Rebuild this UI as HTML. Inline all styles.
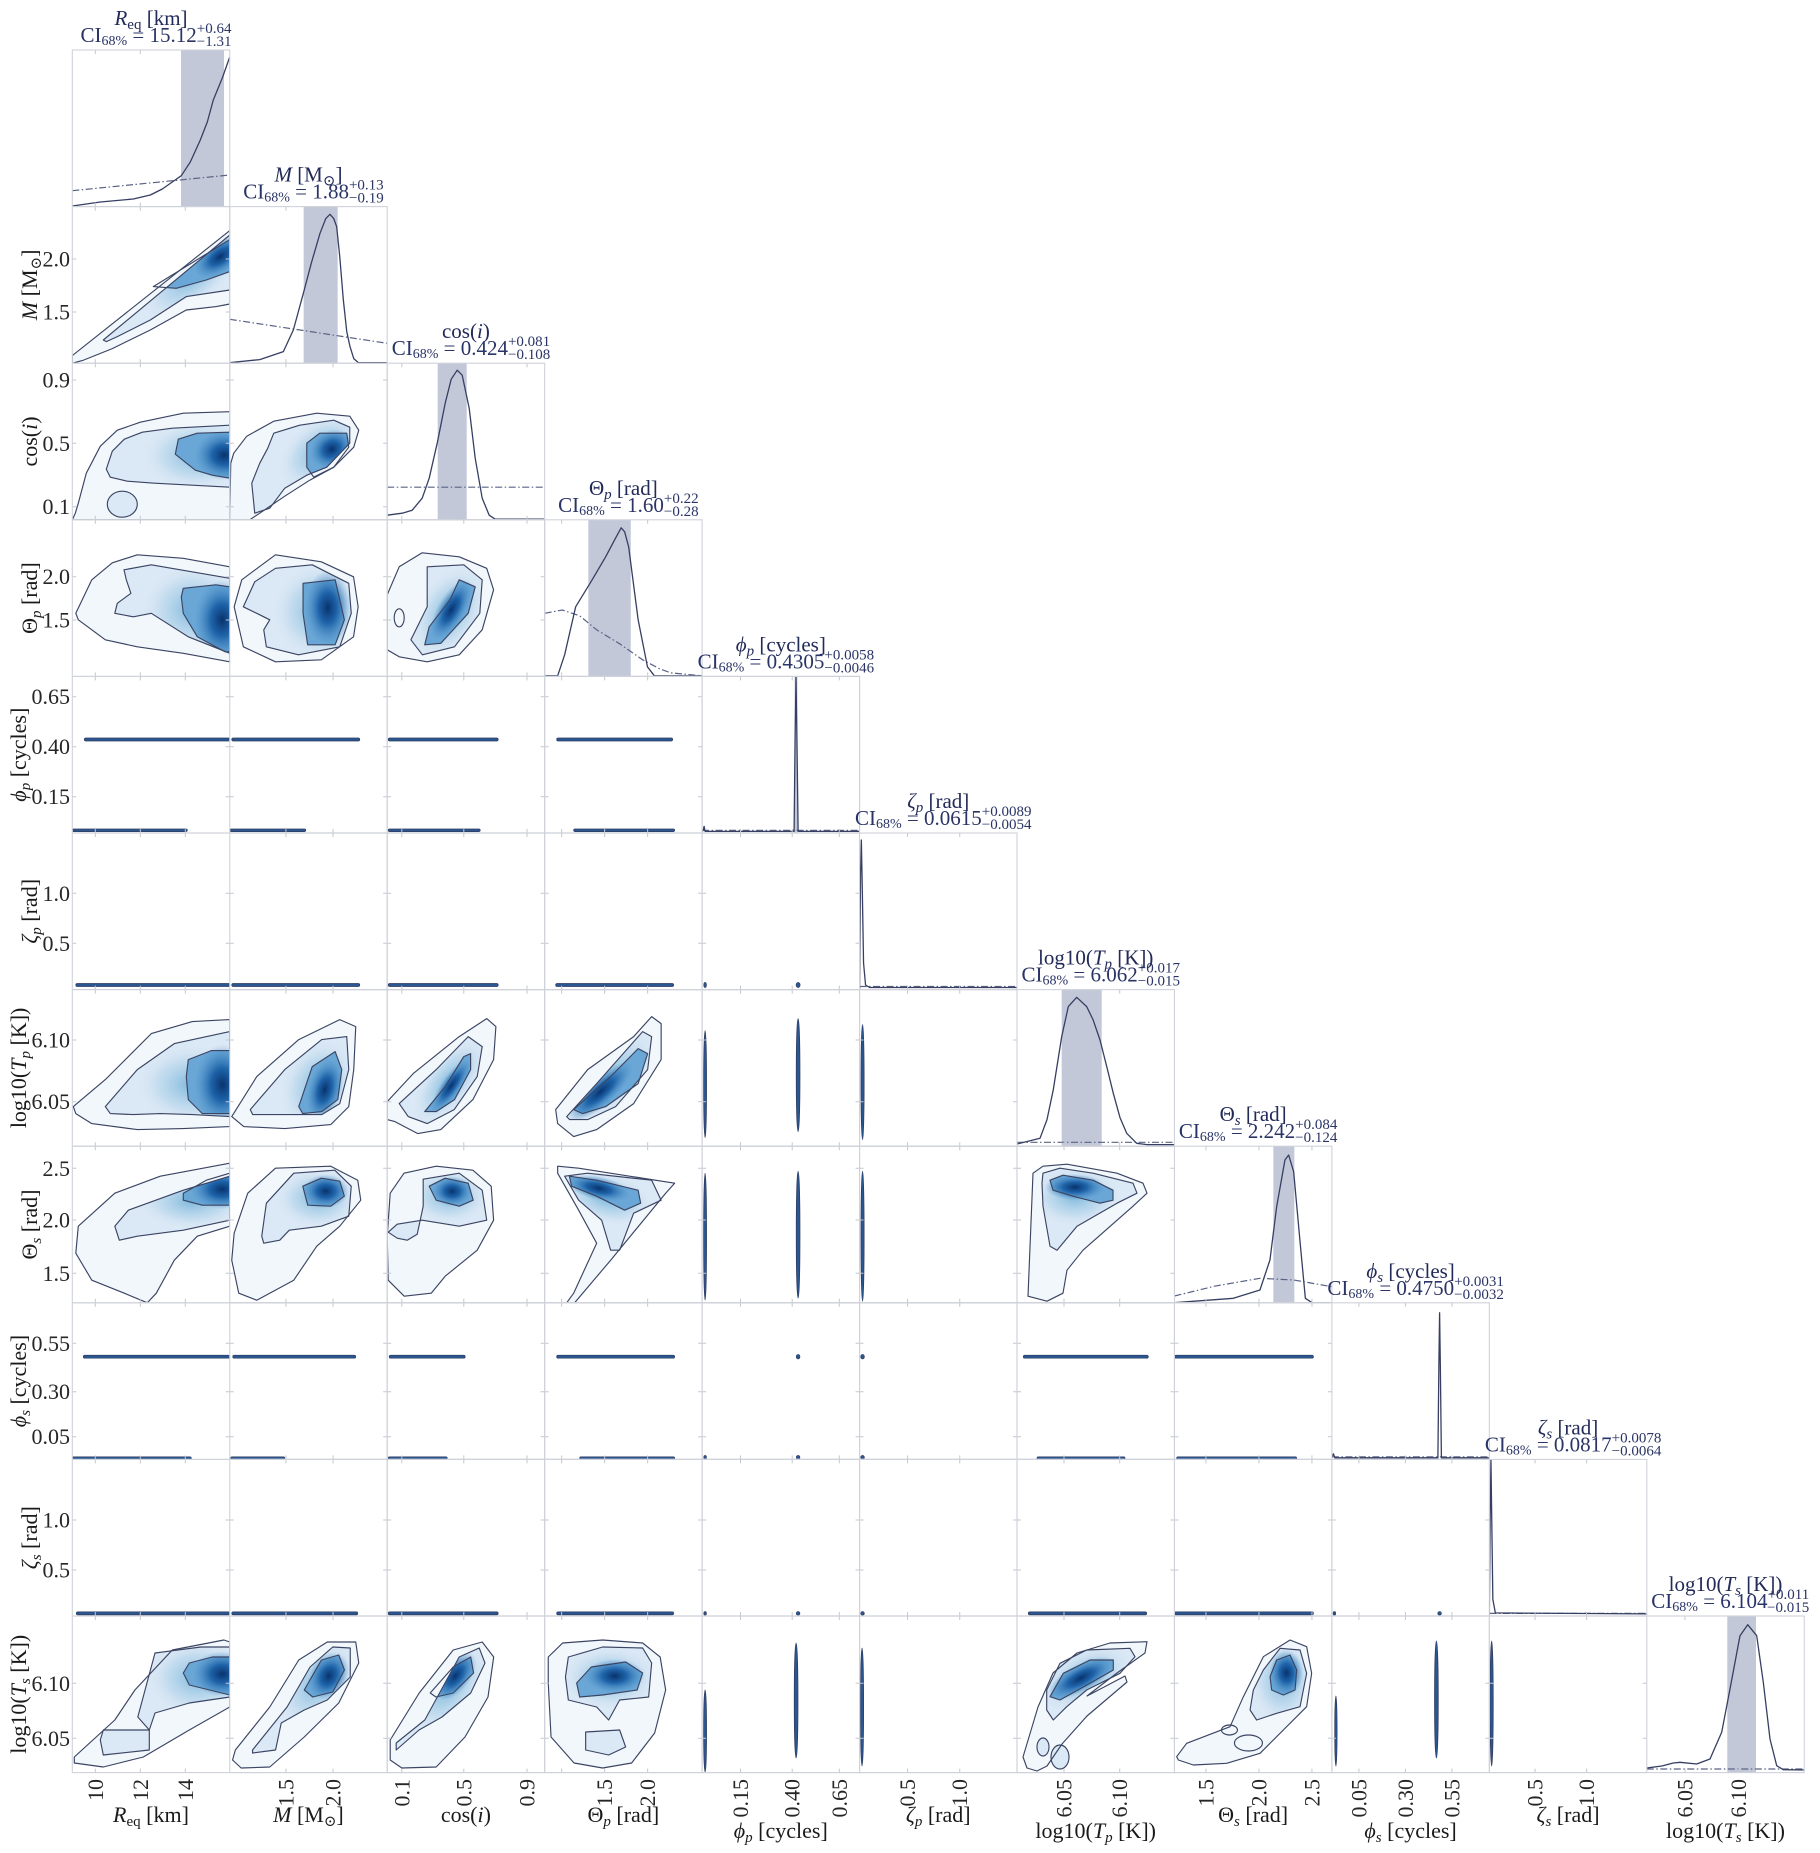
<!DOCTYPE html>
<html><head><meta charset="utf-8"><style>
html,body{margin:0;padding:0;background:#fff;}
svg{display:block;}
.fr{fill:none;stroke:#cfd2da;stroke-width:1.1}
.tk{fill:none;stroke:#c4c7cf;stroke-width:1}
.s{fill:none;stroke:#3b4563;stroke-width:1.15;stroke-linejoin:round}
.fo{fill:#f2f7fc}
.fm{fill:#dbe8f5}
.fi{fill:#6aa7d6}
.cv{fill:none;stroke:#363f62;stroke-width:1.3;stroke-linejoin:round}
.dd{fill:none;stroke:#5a6385;stroke-width:1.2;stroke-dasharray:7 2.5 1.5 2.5}
.band{fill:#c3c8d9}
.st{fill:#2a5692;stroke:#2f3b5e;stroke-width:.7}
.tl{font-size:22px;fill:#262626}
.al{font-size:22px;fill:#1a1a1a}
.t1{font-size:21px;fill:#222a58}
.t2{font-size:21px;fill:#2a3466}
</style></head><body>
<svg width="1820" height="1853" viewBox="0 0 1820 1853" font-family="'Liberation Serif','DejaVu Serif',serif">
<defs>
<clipPath id="pc"><rect x="0" y="0" width="157.45" height="156.6"/></clipPath>
<radialGradient id="g1"><stop offset="0" stop-color="#08336e"/><stop offset=".4" stop-color="#1a5fa6" stop-opacity=".95"/><stop offset="1" stop-color="#4a8fc8" stop-opacity="0"/></radialGradient>
<radialGradient id="g2"><stop offset="0" stop-color="#6aaed6" stop-opacity=".85"/><stop offset=".6" stop-color="#a9cfe8" stop-opacity=".5"/><stop offset="1" stop-color="#d9e7f4" stop-opacity="0"/></radialGradient>

<path id="b10o" d="M0,156.6 L0,149 L157.5,24 L157.5,97.4 L144,100 L114,103.4 L78,123.4 L40,142 L10,154 Z"/>
<path id="b10m" d="M31,133.4 L157.5,28.4 L157.5,83.4 L114,90 L78,113.4 L45,130 L34,135 Z"/>
<path id="b10i" d="M81,80 L157.5,33 L157.5,65 L134,73.4 L104,81.7 Z"/>

<path id="b20o" d="M0,156.6 L3,150 L6,140 L14,110 L28,83 L45,67 L68,59 L111,50 L157.5,48.5 L157.5,156.6 Z"/>
<path id="b20m" d="M34,106 L40,88 L52,76 L70,69 L100,65 L157.5,62 L157.5,124 L120,122 L82,120 L55,118 L38,114 Z"/>
<path id="b20i" d="M103,91 L106,76 L125,70 L157.5,69 L157.5,115 L140,112 L123,107 Z"/>

<path id="b21o" d="M0,156.6 L1,100 L4,90 L17,73 L44,58 L87,50 L120,53 L129,67 L124,84 L104,104 L80,117 L55,133 L30,150 L20,156.6 Z"/>
<path id="b21m" d="M25,150 L22,120 L30,100 L38,85 L44,70 L70,62 L104,57 L120,64 L120,80 L97,104 L77,112 L55,125 L40,145 Z"/>
<path id="b21i" d="M77,80 L90,70 L117,70 L119,84 L104,104 L84,114 L77,104 Z"/>

<path id="b30o" d="M3.5,93.5 L19.5,60 L40,43 L65,35 L111,38.5 L157.5,47 L157.5,142 L111,133.5 L65,127 L33,120 L6,100 Z"/>
<path id="b30m" d="M51.7,50 L79,45 L157.5,58.5 L157.5,133.5 L116,117 L79,93.5 L61,97 L42.5,93.5 L45,83.5 L58.6,73.5 L54,60 Z"/>
<path id="b30i" d="M109,77 L111,68.5 L143.5,65 L157.5,67 L157.5,132 L152.7,132 L125,117 L111,93.5 Z"/>

<path id="b31o" d="M4.4,87 L12,60 L45.7,35 L91.6,42 L123.8,57 L128.4,87 L123.8,117 L91.6,140 L45.7,142 L13.6,127 Z"/>
<path id="b31m" d="M13.6,87 L25,62 L45.7,48.5 L82.5,45 L119,63.5 L121.5,93.5 L110,127 L68.7,135 L36.6,127 L34,110 L40,100 L30,95 Z"/>
<path id="b31i" d="M73.3,63.5 L105.4,60 L114.6,100 L105.4,125 L77.9,125 L73.3,93.5 Z"/>

<path id="b32o" d="M0,130 L0,75 L12,47 L35,33 L72,37 L99.5,48.5 L106.4,70 L95,110 L72,135 L40,142 L12,137 Z"/>
<path id="b32m" d="M40,47 L76.6,45 L95,60 L92.6,93.5 L67.3,127 L35.2,135 L23.7,120 L40,87 L40,60 Z"/>
<path id="b32i" d="M72,60 L88,67 L81,93.5 L53.6,123.5 L37.5,125 L42,107 L62.8,80 Z"/>

<path id="b60o" d="M1,117 L33,90 L79,44 L120,32 L157.5,30 L157.5,137 L111,139 L65,140 L19.5,134 L3.5,124 Z"/>
<path id="b60m" d="M33,117 L65,80 L102,54 L157.5,42 L157.5,127 L120,125 L88,124 L61,125 L38,124 Z"/>
<path id="b60i" d="M116,70 L139,61 L157.5,61 L157.5,124 L130,124 L116,110 L114,87 Z"/>

<path id="b61o" d="M2,127 L27,87 L69,50 L110,30 L126,37 L124,80 L119,117 L101,135 L55,139 L14,137 Z"/>
<path id="b61m" d="M20.5,120 L55,80 L92,50 L117,47 L119,80 L110,114 L92,125 L46,125 L23,125 Z"/>
<path id="b61i" d="M69,117 L82.5,77 L105.4,62 L112,80 L108,110 L92,122 L73,124 Z"/>

<path id="b62o" d="M0,112 L26,84 L72,47 L99.5,29 L108.7,37 L106.4,70 L85.7,110 L53.6,140 L30.6,144 L7.7,132 L0,130 Z"/>
<path id="b62m" d="M12,114 L49,80 L81,47 L95,57 L90,87 L67,120 L40,134 L21,127 Z"/>
<path id="b62i" d="M37.5,122 L58,97 L76.6,67 L83.4,64 L83.4,80 L67.3,110 L49,122 Z"/>

<path id="b63o" d="M11,120 L43,80 L89,47 L107,27 L116.5,34 L116.5,70 L89,114 L52,140 L29,147 L13,134 Z"/>
<path id="b63m" d="M22,127 L52,94 L98,42 L107,47 L103,80 L71,117 L43,130 L25,130 Z"/>
<path id="b63i" d="M29,120 L66,87 L93.5,59 L103,64 L93.5,94 L61,117 L38,124 Z"/>

<path id="b70o" d="M6,80 L42.5,47 L88,30 L157.5,17 L157.5,80 L125,90 L102,114 L84,147 L75,156.6 L52,147 L19.5,134 L3.5,107 Z"/>
<path id="b70m" d="M42.5,80 L56,64 L111,44 L157.5,30 L157.5,74 L111,84 L65,90 L47,94 Z"/>
<path id="b70i" d="M111,47 L134,34 L157.5,27 L157.5,59 L130,59 L111,54 Z"/>

<path id="b71o" d="M4.4,87 L18,47 L45.7,22 L101,20 L128,34 L131,54 L110,80 L87,100 L64,134 L27,154 L9,147 L2,114 Z"/>
<path id="b71m" d="M32,90 L36.6,57 L64,27 L105,24 L121.5,40 L119,70 L91.6,80 L59.5,84 L50,94 L34,97 Z"/>
<path id="b71i" d="M73,40 L91.6,32 L110,35 L114.6,50 L101,60 L78,59 Z"/>

<path id="b72o" d="M3,47 L16.8,27 L49,20 L85.7,24 L104,40 L106.4,74 L90,104 L58,130 L44,147 L17,150 L1,134 L0,90 Z"/>
<path id="b72m" d="M36,33 L72,27 L95,44 L99.5,74 L72,80 L35,74 L10,78 L1,86 L10,92 L20,94 L30,88 L36,60 Z"/>
<path id="b72i" d="M42,40 L58,32 L81,37 L86,54 L72,60 L49,54 Z"/>

<path id="b73o" d="M13,20 L34,22 L130,37 L121,47 L66,114 L30,156.6 L22,156.6 L29,147 L52,97 L34,64 L13,27 Z"/>
<path id="b73m" d="M20,30 L43,27 L107,34 L116.5,54 L89,67 L75,104 L66,104 L57,74 L34,54 Z"/>
<path id="b73i" d="M24.7,30 L52,34 L93.5,44 L96,57 L80,64 L52,50 L27,40 Z"/>

<path id="b76o" d="M11,150 L16,27 L26,20 L50,18 L100,27 L126,37 L130,47 L116,60 L66,104 L50,124 L46,147 L30,155 Z"/>
<path id="b76m" d="M26,27 L43,22 L76,27 L116,37 L120,47 L100,57 L60,80 L40,104 L33,100 L26,60 L25,37 Z"/>
<path id="b76i" d="M33,34 L46,29 L76,34 L96,44 L96,54 L83,57 L56,50 L36,44 Z"/>

<path id="b100o" d="M2,141 L42.5,104 L62.6,74 L100,34 L151.6,24 L157.5,26 L157.5,91 L117,114 L71,141 L31,151 L2,147 Z"/>
<path id="b100m" d="M65.5,101 L82.7,37 L128.6,31 L157.5,31 L157.5,81 L117,87 L82.7,97 L77,114 Z"/>
<path id="b100i" d="M111,57 L117,47 L140,41 L157.5,41 L157.5,79 L117,69 Z"/>

<path id="b101o" d="M5.6,134 L40,91 L69,44 L97.5,26 L126,26 L129,47 L109,87 L74.5,121 L40,151 L11.4,152 L2.8,144 Z"/>
<path id="b101m" d="M22.8,134 L57.3,91 L80.3,51 L103,31 L120.5,32 L120.5,61 L97.5,84 L74.5,94 L51.5,107 L45.8,134 L22.8,137 Z"/>
<path id="b101i" d="M74.5,74 L91.7,44 L109,39 L114.7,54 L103,76 L83,81 Z"/>

<path id="b102o" d="M3,124 L32,77 L66,34 L95,26 L106.5,41 L100.8,81 L77.8,121 L49,151 L14.6,152 L3,144 Z"/>
<path id="b102m" d="M9,127 L37.6,104 L72,41 L92,32 L97.8,47 L83.5,77 L54.8,101 L31.8,114 L9,134 Z"/>
<path id="b102i" d="M43,77 L66,51 L83.5,41 L86.4,57 L66,77 L48.8,81 Z"/>

<path id="b103o" d="M3.6,41 L18,27 L58,24 L98,27 L115.5,41 L121,74 L110,117 L87,147 L58,152 L29.4,147 L6.4,121 L3.6,67 Z"/>
<path id="b103m" d="M23.7,41 L58,31 L98,32 L107,47 L104,81 L75,84 L64,104 L52,91 L23.7,84 L20.8,61 Z"/>
<path id="b103i" d="M32,67 L46.7,51 L81,46 L98,57 L92.5,74 L58,79 L35,81 Z"/>

<path id="b106o" d="M6,141 L21,91 L36,57 L60,37 L93,27 L130,25.7 L128,37 L100,57 L70,80 L108,60 L110,66 L70,100 L45,128 L30,150 L20,155 L10,152 Z"/>
<path id="b106m" d="M29.7,94 L29.7,74 L43,47.3 L69.7,34 L113,32.3 L118,40.7 L103,57.3 L69.7,74 L49.7,90.7 L36.3,104 Z"/>
<path id="b106i" d="M33,80.7 L46.3,57.3 L73,44 L96.3,44 L96.3,54 L73,67.3 L43,84 Z"/>

<path id="b107o" d="M2.2,140.7 L12.2,127.3 L55.6,110.7 L68.9,80.7 L88.9,40.7 L115.6,24 L132.2,30.7 L137.2,57.3 L132.2,90.7 L108.9,114 L85.6,137.3 L52.2,147.3 L18.9,149 L3.9,144 Z"/>
<path id="b107m" d="M78.9,74 L88.9,54 L105.6,32.3 L125.6,34 L132.2,57.3 L125.6,90.7 L102.2,97.3 L82.2,104 L75.6,94 Z"/>
<path id="b107i" d="M95.6,60.7 L102.2,44 L115.6,39 L122.2,54 L120.6,74 L108.9,79 L97.2,74 Z"/>

<clipPath id="c10"><use href="#b10m"/></clipPath>
<clipPath id="c20"><use href="#b20m"/></clipPath>
<clipPath id="c21"><use href="#b21m"/></clipPath>
<clipPath id="c30"><use href="#b30m"/></clipPath>
<clipPath id="c31"><use href="#b31m"/></clipPath>
<clipPath id="c32"><use href="#b32m"/></clipPath>
<clipPath id="c60"><use href="#b60m"/></clipPath>
<clipPath id="c61"><use href="#b61m"/></clipPath>
<clipPath id="c62"><use href="#b62m"/></clipPath>
<clipPath id="c63"><use href="#b63m"/></clipPath>
<clipPath id="c70"><use href="#b70m"/></clipPath>
<clipPath id="c71"><use href="#b71m"/></clipPath>
<clipPath id="c72"><use href="#b72m"/></clipPath>
<clipPath id="c73"><use href="#b73m"/></clipPath>
<clipPath id="c76"><use href="#b76m"/></clipPath>
<clipPath id="c100"><use href="#b100m"/></clipPath>
<clipPath id="c101"><use href="#b101m"/></clipPath>
<clipPath id="c102"><use href="#b102m"/></clipPath>
<clipPath id="c103"><use href="#b103m"/></clipPath>
<clipPath id="c106"><use href="#b106m"/></clipPath>
<clipPath id="c107"><use href="#b107m"/></clipPath>

<path id="tx0" d="M23,156.6v-4M68,156.6v-4M113,156.6v-4M23,0v4M68,0v4M113,0v4"/>
<path id="tx1" d="M56.2,156.6v-4M103.3,156.6v-4M56.2,0v4M103.3,0v4"/>
<path id="tx2" d="M14.6,156.6v-4M76.6,156.6v-4M139.8,156.6v-4M14.6,0v4M76.6,0v4M139.8,0v4"/>
<path id="tx3" d="M17,156.6v-4M60,156.6v-4M103,156.6v-4M17,0v4M60,0v4M103,0v4"/>
<path id="tx4" d="M38.4,156.6v-4M90.1,156.6v-4M137.2,156.6v-4M38.4,0v4M90.1,0v4M137.2,0v4"/>
<path id="tx5" d="M48,156.6v-4M100.2,156.6v-4M48,0v4M100.2,0v4"/>
<path id="tx6" d="M47,156.6v-4M102.7,156.6v-4M47,0v4M102.7,0v4"/>
<path id="tx7" d="M31.5,156.6v-4M84.5,156.6v-4M137.5,156.6v-4M31.5,0v4M84.5,0v4M137.5,0v4"/>
<path id="tx8" d="M27,156.6v-4M73.5,156.6v-4M120,156.6v-4M27,0v4M73.5,0v4M120,0v4"/>
<path id="tx9" d="M45.7,156.6v-4M97.3,156.6v-4M45.7,0v4M97.3,0v4"/>
<path id="tx10" d="M38.2,156.6v-4M91.5,156.6v-4M38.2,0v4M91.5,0v4"/>
<path id="ty1" d="M0,52.4h4M0,105.4h4M157.45,52.4h-4M157.45,105.4h-4"/>
<path id="ty2" d="M0,16.8h4M0,80.1h4M0,143.5h4M157.45,16.8h-4M157.45,80.1h-4M157.45,143.5h-4"/>
<path id="ty3" d="M0,56.9h4M0,100.2h4M157.45,56.9h-4M157.45,100.2h-4"/>
<path id="ty4" d="M0,20.3h4M0,70.3h4M0,120.3h4M157.45,20.3h-4M157.45,70.3h-4M157.45,120.3h-4"/>
<path id="ty5" d="M0,60.3h4M0,110.3h4M157.45,60.3h-4M157.45,110.3h-4"/>
<path id="ty6" d="M0,50.4h4M0,112.1h4M157.45,50.4h-4M157.45,112.1h-4"/>
<path id="ty7" d="M0,22.1h4M0,73.8h4M0,127.1h4M157.45,22.1h-4M157.45,73.8h-4M157.45,127.1h-4"/>
<path id="ty8" d="M0,40.5h4M0,88.9h4M0,133.9h4M157.45,40.5h-4M157.45,88.9h-4M157.45,133.9h-4"/>
<path id="ty9" d="M0,60.6h4M0,110.6h4M157.45,60.6h-4M157.45,110.6h-4"/>
<path id="ty10" d="M0,67.3h4M0,122.3h4M157.45,67.3h-4M157.45,122.3h-4"/>
</defs>

<rect x="0" y="0" width="1820" height="1853" fill="#fff"/>

<!-- ===== 2D blob panels ===== -->
<g transform="translate(72.3,206.6)"><g clip-path="url(#pc)">
<use href="#b10o" class="fo"/><use href="#b10m" class="fm"/>
<g clip-path="url(#c10)"><ellipse cx="120" cy="70" rx="60" ry="28" transform="rotate(-38 120 70)" fill="url(#g2)"/>
<use href="#b10i" class="fi"/>
<ellipse cx="148" cy="50" rx="30" ry="16" transform="rotate(-35 148 50)" fill="url(#g1)"/></g>
<use href="#b10o" class="s"/><use href="#b10m" class="s"/><use href="#b10i" class="s"/>
</g></g>

<g transform="translate(72.3,363.2)"><g clip-path="url(#pc)">
<use href="#b20o" class="fo"/><use href="#b20m" class="fm"/>
<g clip-path="url(#c20)"><ellipse cx="125" cy="92" rx="55" ry="35" fill="url(#g2)"/>
<use href="#b20i" class="fi"/>
<ellipse cx="152" cy="92" rx="30" ry="25" fill="url(#g1)"/></g>
<ellipse cx="50" cy="141" rx="15" ry="13" class="fm"/>
<use href="#b20o" class="s"/><use href="#b20m" class="s"/><use href="#b20i" class="s"/>
<ellipse cx="50" cy="141" rx="15" ry="13" class="s"/>
</g></g>

<g transform="translate(229.75,363.2)"><g clip-path="url(#pc)">
<use href="#b21o" class="fo"/><use href="#b21m" class="fm"/>
<g clip-path="url(#c21)"><ellipse cx="90" cy="88" rx="48" ry="30" transform="rotate(-40 90 88)" fill="url(#g2)"/>
<use href="#b21i" class="fi"/>
<ellipse cx="102" cy="86" rx="23" ry="19" transform="rotate(-30 102 86)" fill="url(#g1)"/></g>
<use href="#b21o" class="s"/><use href="#b21m" class="s"/><use href="#b21i" class="s"/>
</g></g>

<g transform="translate(72.3,519.8)"><g clip-path="url(#pc)">
<use href="#b30o" class="fo"/><use href="#b30m" class="fm"/>
<g clip-path="url(#c30)"><ellipse cx="120" cy="90" rx="50" ry="45" fill="url(#g2)"/>
<use href="#b30i" class="fi"/>
<ellipse cx="150" cy="100" rx="28" ry="40" fill="url(#g1)"/></g>
<use href="#b30o" class="s"/><use href="#b30m" class="s"/><use href="#b30i" class="s"/>
</g></g>

<g transform="translate(229.75,519.8)"><g clip-path="url(#pc)">
<use href="#b31o" class="fo"/><use href="#b31m" class="fm"/>
<g clip-path="url(#c31)"><ellipse cx="88" cy="92" rx="45" ry="48" fill="url(#g2)"/>
<use href="#b31i" class="fi"/>
<ellipse cx="98" cy="88" rx="23" ry="38" fill="url(#g1)"/></g>
<use href="#b31o" class="s"/><use href="#b31m" class="s"/><use href="#b31i" class="s"/>
</g></g>

<g transform="translate(387.2,519.8)"><g clip-path="url(#pc)">
<use href="#b32o" class="fo"/><use href="#b32m" class="fm"/>
<g clip-path="url(#c32)"><ellipse cx="62" cy="92" rx="32" ry="50" transform="rotate(30 62 92)" fill="url(#g2)"/>
<use href="#b32i" class="fi"/>
<ellipse cx="64" cy="90" rx="14" ry="34" transform="rotate(30 64 90)" fill="url(#g1)"/></g>
<use href="#b32o" class="s"/><use href="#b32m" class="s"/><use href="#b32i" class="s"/>
<ellipse cx="12" cy="98" rx="5" ry="9" class="s"/>
</g></g>

<g transform="translate(72.3,989.6)"><g clip-path="url(#pc)">
<use href="#b60o" class="fo"/><use href="#b60m" class="fm"/>
<g clip-path="url(#c60)"><ellipse cx="120" cy="95" rx="55" ry="40" fill="url(#g2)"/>
<use href="#b60i" class="fi"/>
<ellipse cx="150" cy="95" rx="28" ry="40" fill="url(#g1)"/></g>
<use href="#b60o" class="s"/><use href="#b60m" class="s"/><use href="#b60i" class="s"/>
</g></g>

<g transform="translate(229.75,989.6)"><g clip-path="url(#pc)">
<use href="#b61o" class="fo"/><use href="#b61m" class="fm"/>
<g clip-path="url(#c61)"><ellipse cx="88" cy="95" rx="35" ry="48" transform="rotate(25 88 95)" fill="url(#g2)"/>
<use href="#b61i" class="fi"/>
<ellipse cx="95" cy="100" rx="17" ry="32" transform="rotate(15 95 100)" fill="url(#g1)"/></g>
<use href="#b61o" class="s"/><use href="#b61m" class="s"/><use href="#b61i" class="s"/>
</g></g>

<g transform="translate(387.2,989.6)"><g clip-path="url(#pc)">
<use href="#b62o" class="fo"/><use href="#b62m" class="fm"/>
<g clip-path="url(#c62)"><ellipse cx="62" cy="92" rx="24" ry="52" transform="rotate(38 62 92)" fill="url(#g2)"/>
<use href="#b62i" class="fi"/>
<ellipse cx="64" cy="96" rx="10" ry="32" transform="rotate(35 64 96)" fill="url(#g1)"/></g>
<use href="#b62o" class="s"/><use href="#b62m" class="s"/><use href="#b62i" class="s"/>
</g></g>

<g transform="translate(544.65,989.6)"><g clip-path="url(#pc)">
<use href="#b63o" class="fo"/><use href="#b63m" class="fm"/>
<g clip-path="url(#c63)"><ellipse cx="64" cy="90" rx="26" ry="62" transform="rotate(45 64 90)" fill="url(#g2)"/>
<use href="#b63i" class="fi"/>
<ellipse cx="56" cy="102" rx="14" ry="42" transform="rotate(48 56 102)" fill="url(#g1)"/></g>
<use href="#b63o" class="s"/><use href="#b63m" class="s"/><use href="#b63i" class="s"/>
</g></g>

<g transform="translate(72.3,1146.2)"><g clip-path="url(#pc)">
<use href="#b70o" class="fo"/><use href="#b70m" class="fm"/>
<g clip-path="url(#c70)"><ellipse cx="120" cy="55" rx="55" ry="28" fill="url(#g2)"/>
<use href="#b70i" class="fi"/>
<ellipse cx="150" cy="43" rx="32" ry="20" fill="url(#g1)"/></g>
<use href="#b70o" class="s"/><use href="#b70m" class="s"/><use href="#b70i" class="s"/>
</g></g>

<g transform="translate(229.75,1146.2)"><g clip-path="url(#pc)">
<use href="#b71o" class="fo"/><use href="#b71m" class="fm"/>
<g clip-path="url(#c71)"><ellipse cx="88" cy="52" rx="42" ry="30" fill="url(#g2)"/>
<use href="#b71i" class="fi"/>
<ellipse cx="96" cy="45" rx="23" ry="17" fill="url(#g1)"/></g>
<use href="#b71o" class="s"/><use href="#b71m" class="s"/><use href="#b71i" class="s"/>
</g></g>

<g transform="translate(387.2,1146.2)"><g clip-path="url(#pc)">
<use href="#b72o" class="fo"/><use href="#b72m" class="fm"/>
<g clip-path="url(#c72)"><ellipse cx="62" cy="50" rx="40" ry="28" fill="url(#g2)"/>
<use href="#b72i" class="fi"/>
<ellipse cx="65" cy="45" rx="20" ry="15" fill="url(#g1)"/></g>
<use href="#b72o" class="s"/><use href="#b72m" class="s"/><use href="#b72i" class="s"/>
</g></g>

<g transform="translate(544.65,1146.2)"><g clip-path="url(#pc)">
<use href="#b73o" class="fo"/><use href="#b73m" class="fm"/>
<g clip-path="url(#c73)"><ellipse cx="62" cy="52" rx="48" ry="26" transform="rotate(15 62 52)" fill="url(#g2)"/>
<use href="#b73i" class="fi"/>
<ellipse cx="54" cy="42" rx="32" ry="12" transform="rotate(12 54 42)" fill="url(#g1)"/></g>
<use href="#b73o" class="s"/><use href="#b73m" class="s"/><use href="#b73i" class="s"/>
</g></g>

<g transform="translate(1017,1146.2)"><g clip-path="url(#pc)">
<use href="#b76o" class="fo"/><use href="#b76m" class="fm"/>
<g clip-path="url(#c76)"><ellipse cx="58" cy="50" rx="45" ry="30" fill="url(#g2)"/>
<use href="#b76i" class="fi"/>
<ellipse cx="58" cy="41" rx="30" ry="13" fill="url(#g1)"/></g>
<use href="#b76o" class="s"/><use href="#b76m" class="s"/><use href="#b76i" class="s"/>
</g></g>

<g transform="translate(72.3,1616)"><g clip-path="url(#pc)">
<use href="#b100o" class="fo"/><use href="#b100m" class="fm"/>
<g clip-path="url(#c100)"><ellipse cx="125" cy="62" rx="50" ry="38" fill="url(#g2)"/>
<use href="#b100i" class="fi"/>
<ellipse cx="150" cy="58" rx="30" ry="23" fill="url(#g1)"/></g>
<path d="M31,114 L77,114 L77,134 L31,139 L28,124 Z" class="fm"/>
<use href="#b100o" class="s"/><use href="#b100m" class="s"/><use href="#b100i" class="s"/>
<path d="M31,114 L77,114 L77,134 L31,139 L28,124 Z" class="s"/>
</g></g>

<g transform="translate(229.75,1616)"><g clip-path="url(#pc)">
<use href="#b101o" class="fo"/><use href="#b101m" class="fm"/>
<g clip-path="url(#c101)"><ellipse cx="88" cy="68" rx="32" ry="50" transform="rotate(38 88 68)" fill="url(#g2)"/>
<use href="#b101i" class="fi"/>
<ellipse cx="99" cy="60" rx="19" ry="25" transform="rotate(30 99 60)" fill="url(#g1)"/></g>
<use href="#b101o" class="s"/><use href="#b101m" class="s"/><use href="#b101i" class="s"/>
</g></g>

<g transform="translate(387.2,1616)"><g clip-path="url(#pc)">
<use href="#b102o" class="fo"/><use href="#b102m" class="fm"/>
<g clip-path="url(#c102)"><ellipse cx="62" cy="72" rx="28" ry="52" transform="rotate(38 62 72)" fill="url(#g2)"/>
<use href="#b102i" class="fi"/>
<ellipse cx="68" cy="60" rx="15" ry="28" transform="rotate(38 68 60)" fill="url(#g1)"/></g>
<use href="#b102o" class="s"/><use href="#b102m" class="s"/><use href="#b102i" class="s"/>
</g></g>

<g transform="translate(544.65,1616)"><g clip-path="url(#pc)">
<use href="#b103o" class="fo"/><use href="#b103m" class="fm"/>
<g clip-path="url(#c103)"><ellipse cx="65" cy="62" rx="48" ry="32" fill="url(#g2)"/>
<use href="#b103i" class="fi"/>
<ellipse cx="70" cy="60" rx="30" ry="17" fill="url(#g1)"/></g>
<path d="M41,116 L75,114 L81,131 L64,139 L41,134 Z" class="fm"/>
<use href="#b103o" class="s"/><use href="#b103m" class="s"/><use href="#b103i" class="s"/>
<path d="M41,116 L75,114 L81,131 L64,139 L41,134 Z" class="s"/>
</g></g>

<g transform="translate(1017,1616)"><g clip-path="url(#pc)">
<use href="#b106o" class="fo"/><use href="#b106m" class="fm"/>
<g clip-path="url(#c106)"><ellipse cx="68" cy="62" rx="50" ry="28" transform="rotate(-28 68 62)" fill="url(#g2)"/>
<use href="#b106i" class="fi"/>
<ellipse cx="64" cy="62" rx="37" ry="14" transform="rotate(-28 64 62)" fill="url(#g1)"/></g>
<ellipse cx="26" cy="131" rx="6" ry="9" class="fm"/><ellipse cx="43" cy="141" rx="9" ry="12" class="fm"/>
<use href="#b106o" class="s"/><use href="#b106m" class="s"/><use href="#b106i" class="s"/>
<ellipse cx="26" cy="131" rx="6" ry="9" class="s"/><ellipse cx="43" cy="141" rx="9" ry="12" class="s"/>
</g></g>

<g transform="translate(1174.45,1616)"><g clip-path="url(#pc)">
<use href="#b107o" class="fo"/><use href="#b107m" class="fm"/>
<g clip-path="url(#c107)"><ellipse cx="108" cy="65" rx="32" ry="42" fill="url(#g2)"/>
<use href="#b107i" class="fi"/>
<ellipse cx="112" cy="57" rx="17" ry="23" fill="url(#g1)"/></g>
<use href="#b107o" class="s"/><use href="#b107m" class="s"/><use href="#b107i" class="s"/>
<ellipse cx="55" cy="114" rx="8" ry="5" class="s"/><ellipse cx="74" cy="127" rx="14" ry="8" class="s"/>
</g></g>

<!-- ===== horizontal streaks ===== -->
<g class="st">
<!-- row 4 phi_p -->
<rect x="84.3" y="738" width="145.5" height="3" rx="1.5"/><rect x="72.3" y="829" width="115" height="2.6" rx="1.3"/>
<rect x="231.75" y="738" width="128" height="3" rx="1.5"/><rect x="229.75" y="829" width="76" height="2.6" rx="1.3"/>
<rect x="388.2" y="738" width="110" height="3" rx="1.5"/><rect x="388.2" y="829" width="92" height="2.6" rx="1.3"/>
<rect x="556.65" y="738" width="116" height="3" rx="1.5"/><rect x="573.65" y="829" width="101" height="2.6" rx="1.3"/>
<!-- row 5 zeta_p -->
<rect x="75.8" y="983.5" width="153.9" height="3" rx="1.5"/>
<rect x="231.75" y="983.5" width="128" height="3" rx="1.5"/>
<rect x="388.2" y="983.5" width="110" height="3" rx="1.5"/>
<rect x="555.65" y="983.5" width="118" height="3" rx="1.5"/>
<!-- row 8 phi_s -->
<rect x="83.3" y="1355.2" width="146.5" height="3" rx="1.5"/><rect x="72.3" y="1456.8" width="119" height="2.6" rx="1.3"/>
<rect x="232.75" y="1355.2" width="123" height="3" rx="1.5"/><rect x="230.75" y="1456.8" width="54" height="2.6" rx="1.3"/>
<rect x="389.2" y="1355.2" width="76" height="3" rx="1.5"/><rect x="388.2" y="1456.8" width="59" height="2.6" rx="1.3"/>
<rect x="556.65" y="1355.2" width="118" height="3" rx="1.5"/><rect x="579.65" y="1456.8" width="95" height="2.6" rx="1.3"/>
<rect x="1023.3" y="1355.2" width="125" height="3" rx="1.5"/><rect x="1037" y="1456.8" width="88" height="2.6" rx="1.3"/>
<rect x="1174.45" y="1355.2" width="139" height="3" rx="1.5"/><rect x="1176.65" y="1456.8" width="120" height="2.6" rx="1.3"/>
<!-- row 9 zeta_s -->
<rect x="76.3" y="1611.9" width="153.4" height="3" rx="1.5"/>
<rect x="231.75" y="1611.9" width="126" height="3" rx="1.5"/>
<rect x="388.2" y="1611.9" width="110" height="3" rx="1.5"/>
<rect x="556.65" y="1611.9" width="117" height="3" rx="1.5"/>
<rect x="1028.3" y="1611.9" width="118.4" height="3" rx="1.5"/>
<rect x="1174.45" y="1611.9" width="139" height="3" rx="1.5"/>
</g>

<!-- ===== vertical streaks & dots ===== -->
<g class="st">
<ellipse cx="705.1" cy="1084.1" rx="1.5" ry="53.5"/><ellipse cx="798.1" cy="1075.1" rx="1.9" ry="56.5"/><ellipse cx="862.55" cy="1082.1" rx="1.6" ry="57.5"/>
<ellipse cx="705.1" cy="1236.7" rx="1.5" ry="63.5"/><ellipse cx="798.1" cy="1234.7" rx="1.9" ry="63.5"/><ellipse cx="862.55" cy="1236.2" rx="1.6" ry="65"/>
<ellipse cx="705.1" cy="1731" rx="1.5" ry="41"/><ellipse cx="796.1" cy="1700.5" rx="1.9" ry="57.5"/><ellipse cx="862.05" cy="1707" rx="1.6" ry="59"/>
<ellipse cx="1436.4" cy="1699.5" rx="1.9" ry="58.5"/><ellipse cx="1491.65" cy="1703.5" rx="1.6" ry="62.5"/><ellipse cx="1335.9" cy="1731" rx="1.2" ry="35"/>
<!-- dots -->
<ellipse cx="705.1" cy="985" rx="1.3" ry="2.5"/><ellipse cx="798.1" cy="985" rx="2" ry="2.5"/>
<ellipse cx="798.1" cy="1356.7" rx="1.8" ry="2.2"/><ellipse cx="862.55" cy="1356.7" rx="1.8" ry="2.2"/>
<ellipse cx="798.1" cy="1457.3" rx="1.8" ry="1.8"/><ellipse cx="862.55" cy="1457.3" rx="1.8" ry="1.8"/><ellipse cx="705.1" cy="1457.3" rx="1.3" ry="1.8"/>
<ellipse cx="705.1" cy="1613.4" rx="1.3" ry="1.8"/><ellipse cx="798.1" cy="1613.4" rx="1.8" ry="1.8"/><ellipse cx="862.55" cy="1613.4" rx="1.8" ry="1.8"/><ellipse cx="1439.6" cy="1613.4" rx="1.8" ry="1.8"/><ellipse cx="1334.4" cy="1613.4" rx="1.3" ry="1.8"/>
</g>

<!-- ===== diagonal 1D panels ===== -->
<g transform="translate(72.3,50)"><g clip-path="url(#pc)">
<rect class="band" x="108.7" y="0" width="43" height="156.6"/>
<path class="dd" d="M0,140.7 L157.45,125"/>
<path class="cv" d="M0,156 L28,152 L61,149 L78,145 L90,139 L100,132 L109,125.7 L118,112 L128,90 L135,72 L141,50 L150,28 L157.45,7"/>
</g></g>
<g transform="translate(229.75,206.6)"><g clip-path="url(#pc)">
<rect class="band" x="73.9" y="0" width="34" height="156.6"/>
<path class="dd" d="M0,112.7 L157.45,136.7"/>
<path class="cv" d="M0,156 L30,153 L53.6,145 L63.6,123.4 L73.6,86.7 L82,55 L90.25,26.7 L96,12 L100.25,7.7 L104,12 L106.9,20 L110,50 L113.6,93.4 L117,125 L120.25,140 L124,152 L128.6,156 L157.45,156"/>
</g></g>
<g transform="translate(387.2,363.2)"><g clip-path="url(#pc)">
<rect class="band" x="50.5" y="0" width="29" height="156.6"/>
<path class="dd" d="M0,124 L157.45,124"/>
<path class="cv" d="M0,152 L15,150 L25,147 L35,135 L42,115 L50,80 L58,40 L64,16 L70,7 L75,12 L82,45 L88,95 L95,135 L102,152 L108,156 L157.45,156"/>
</g></g>
<g transform="translate(544.65,519.8)"><g clip-path="url(#pc)">
<rect class="band" x="43.7" y="0" width="42.4" height="156.6"/>
<path class="dd" d="M0,93.5 L17.5,90.2 L35,96 L52,110 L75,124 L98,140 L115,149 L125.8,153 L157.45,156"/>
<path class="cv" d="M0,156 L13,156 L20,135 L31,87 L47.5,60 L61,37 L70,20 L76.5,8 L80,12 L84,27 L93.5,100 L102.8,147 L109.7,156 L157.45,156"/>
</g></g>
<g transform="translate(702.1,676.4)"><g clip-path="url(#pc)">
<rect class="band" x="92.5" y="0" width="2.8" height="156.6"/>
<path class="dd" d="M0,154 L157.45,154"/>
<path class="cv" d="M0,155 L1,154 L2,150 L3,155 L92,155 L93,60 L93.9,1 L94.8,60 L96,155 L157.45,155"/>
</g></g>
<g transform="translate(859.55,833)"><g clip-path="url(#pc)">
<path class="dd" d="M0,153.5 L157.45,153.5"/>
<path class="cv" d="M0,156 L1,40 L1.8,7 L2.8,60 L4,130 L6,152 L10,154.5 L157.45,154.5"/>
</g></g>
<g transform="translate(1017,989.6)"><g clip-path="url(#pc)">
<rect class="band" x="44.7" y="0" width="40" height="156.6"/>
<path class="dd" d="M0,152.7 L157.45,152.7"/>
<path class="cv" d="M0,154.4 L23,148.7 L30,130 L36.3,100 L44.7,47 L51.3,17 L59.7,7.7 L69.7,17 L76,30 L83,50.4 L90,78 L96.3,103.7 L103,128 L109.7,143.7 L119.7,153.7 L130,155 L157.45,155"/>
</g></g>
<g transform="translate(1174.45,1146.2)"><g clip-path="url(#pc)">
<rect class="band" x="98.9" y="0" width="21" height="156.6"/>
<path class="dd" d="M0,149.8 L40,140 L85.5,132.1 L119.2,133.8 L157.45,140.5"/>
<path class="cv" d="M0,156.5 L58.9,152.1 L85.5,143.8 L95.5,113.8 L102.2,60.5 L110.5,13.8 L114.2,8.8 L119.2,25.5 L125.9,98.8 L130.9,152.1 L137.6,156.5 L157.45,156.5"/>
</g></g>
<g transform="translate(1331.9,1302.8)"><g clip-path="url(#pc)">
<path class="dd" d="M0,154 L157.45,154"/>
<path class="cv" d="M0,155 L1.5,151 L3,155 L106,155 L107,60 L107.7,10 L108.4,60 L109.5,155 L157.45,155"/>
</g></g>
<g transform="translate(1489.35,1459.4)"><g clip-path="url(#pc)">
<path class="dd" d="M0,154 L157.45,154"/>
<path class="cv" d="M0,156 L0.8,60 L1.6,0.5 L2.4,60 L3.5,140 L6,153.5 L157.45,154.5"/>
</g></g>
<g transform="translate(1646.8,1616)"><g clip-path="url(#pc)">
<rect class="band" x="80.5" y="0" width="28.7" height="156.6"/>
<path class="dd" d="M0,153 L157.45,153"/>
<path class="cv" d="M0,152 L15,150 L26.5,147 L33.2,146.3 L49.9,148 L63.2,143 L74.9,116.3 L83.2,73 L93.2,19.7 L100.9,8.7 L109.9,19.7 L116.5,66.3 L123.2,123 L129.9,149.7 L136.5,153.7 L157.45,154"/>
</g></g>

<!-- ===== ticks ===== -->
<g class="tk">
<use href="#tx0" x="72.3" y="50"/>
<use href="#tx0" x="72.3" y="206.6"/><use href="#ty1" x="72.3" y="206.6"/>
<use href="#tx1" x="229.75" y="206.6"/>
<use href="#tx0" x="72.3" y="363.2"/><use href="#ty2" x="72.3" y="363.2"/><use href="#tx1" x="229.75" y="363.2"/><use href="#ty2" x="229.75" y="363.2"/><use href="#tx2" x="387.2" y="363.2"/>
<use href="#tx0" x="72.3" y="519.8"/><use href="#ty3" x="72.3" y="519.8"/><use href="#tx1" x="229.75" y="519.8"/><use href="#ty3" x="229.75" y="519.8"/><use href="#tx2" x="387.2" y="519.8"/><use href="#ty3" x="387.2" y="519.8"/><use href="#tx3" x="544.65" y="519.8"/>
<use href="#tx0" x="72.3" y="676.4"/><use href="#ty4" x="72.3" y="676.4"/><use href="#tx1" x="229.75" y="676.4"/><use href="#ty4" x="229.75" y="676.4"/><use href="#tx2" x="387.2" y="676.4"/><use href="#ty4" x="387.2" y="676.4"/><use href="#tx3" x="544.65" y="676.4"/><use href="#ty4" x="544.65" y="676.4"/><use href="#tx4" x="702.1" y="676.4"/>
<use href="#tx0" x="72.3" y="833"/><use href="#ty5" x="72.3" y="833"/><use href="#tx1" x="229.75" y="833"/><use href="#ty5" x="229.75" y="833"/><use href="#tx2" x="387.2" y="833"/><use href="#ty5" x="387.2" y="833"/><use href="#tx3" x="544.65" y="833"/><use href="#ty5" x="544.65" y="833"/><use href="#tx4" x="702.1" y="833"/><use href="#ty5" x="702.1" y="833"/><use href="#tx5" x="859.55" y="833"/>
<use href="#tx0" x="72.3" y="989.6"/><use href="#ty6" x="72.3" y="989.6"/><use href="#tx1" x="229.75" y="989.6"/><use href="#ty6" x="229.75" y="989.6"/><use href="#tx2" x="387.2" y="989.6"/><use href="#ty6" x="387.2" y="989.6"/><use href="#tx3" x="544.65" y="989.6"/><use href="#ty6" x="544.65" y="989.6"/><use href="#tx4" x="702.1" y="989.6"/><use href="#ty6" x="702.1" y="989.6"/><use href="#tx5" x="859.55" y="989.6"/><use href="#ty6" x="859.55" y="989.6"/><use href="#tx6" x="1017" y="989.6"/>
<use href="#tx0" x="72.3" y="1146.2"/><use href="#ty7" x="72.3" y="1146.2"/><use href="#tx1" x="229.75" y="1146.2"/><use href="#ty7" x="229.75" y="1146.2"/><use href="#tx2" x="387.2" y="1146.2"/><use href="#ty7" x="387.2" y="1146.2"/><use href="#tx3" x="544.65" y="1146.2"/><use href="#ty7" x="544.65" y="1146.2"/><use href="#tx4" x="702.1" y="1146.2"/><use href="#ty7" x="702.1" y="1146.2"/><use href="#tx5" x="859.55" y="1146.2"/><use href="#ty7" x="859.55" y="1146.2"/><use href="#tx6" x="1017" y="1146.2"/><use href="#ty7" x="1017" y="1146.2"/><use href="#tx7" x="1174.45" y="1146.2"/>
<use href="#tx0" x="72.3" y="1302.8"/><use href="#ty8" x="72.3" y="1302.8"/><use href="#tx1" x="229.75" y="1302.8"/><use href="#ty8" x="229.75" y="1302.8"/><use href="#tx2" x="387.2" y="1302.8"/><use href="#ty8" x="387.2" y="1302.8"/><use href="#tx3" x="544.65" y="1302.8"/><use href="#ty8" x="544.65" y="1302.8"/><use href="#tx4" x="702.1" y="1302.8"/><use href="#ty8" x="702.1" y="1302.8"/><use href="#tx5" x="859.55" y="1302.8"/><use href="#ty8" x="859.55" y="1302.8"/><use href="#tx6" x="1017" y="1302.8"/><use href="#ty8" x="1017" y="1302.8"/><use href="#tx7" x="1174.45" y="1302.8"/><use href="#ty8" x="1174.45" y="1302.8"/><use href="#tx8" x="1331.9" y="1302.8"/>
<use href="#tx0" x="72.3" y="1459.4"/><use href="#ty9" x="72.3" y="1459.4"/><use href="#tx1" x="229.75" y="1459.4"/><use href="#ty9" x="229.75" y="1459.4"/><use href="#tx2" x="387.2" y="1459.4"/><use href="#ty9" x="387.2" y="1459.4"/><use href="#tx3" x="544.65" y="1459.4"/><use href="#ty9" x="544.65" y="1459.4"/><use href="#tx4" x="702.1" y="1459.4"/><use href="#ty9" x="702.1" y="1459.4"/><use href="#tx5" x="859.55" y="1459.4"/><use href="#ty9" x="859.55" y="1459.4"/><use href="#tx6" x="1017" y="1459.4"/><use href="#ty9" x="1017" y="1459.4"/><use href="#tx7" x="1174.45" y="1459.4"/><use href="#ty9" x="1174.45" y="1459.4"/><use href="#tx8" x="1331.9" y="1459.4"/><use href="#ty9" x="1331.9" y="1459.4"/><use href="#tx9" x="1489.35" y="1459.4"/>
<use href="#tx0" x="72.3" y="1616"/><use href="#ty10" x="72.3" y="1616"/><use href="#tx1" x="229.75" y="1616"/><use href="#ty10" x="229.75" y="1616"/><use href="#tx2" x="387.2" y="1616"/><use href="#ty10" x="387.2" y="1616"/><use href="#tx3" x="544.65" y="1616"/><use href="#ty10" x="544.65" y="1616"/><use href="#tx4" x="702.1" y="1616"/><use href="#ty10" x="702.1" y="1616"/><use href="#tx5" x="859.55" y="1616"/><use href="#ty10" x="859.55" y="1616"/><use href="#tx6" x="1017" y="1616"/><use href="#ty10" x="1017" y="1616"/><use href="#tx7" x="1174.45" y="1616"/><use href="#ty10" x="1174.45" y="1616"/><use href="#tx8" x="1331.9" y="1616"/><use href="#ty10" x="1331.9" y="1616"/><use href="#tx9" x="1489.35" y="1616"/><use href="#ty10" x="1489.35" y="1616"/><use href="#tx10" x="1646.8" y="1616"/>
</g>

<!-- ===== frames ===== -->
<g class="fr">
<rect x="72.3" y="50" width="157.45" height="156.6"/>
<rect x="72.3" y="206.6" width="157.45" height="156.6"/><rect x="229.75" y="206.6" width="157.45" height="156.6"/>
<rect x="72.3" y="363.2" width="157.45" height="156.6"/><rect x="229.75" y="363.2" width="157.45" height="156.6"/><rect x="387.2" y="363.2" width="157.45" height="156.6"/>
<rect x="72.3" y="519.8" width="472.35" height="156.6"/><rect x="229.75" y="519.8" width="157.45" height="156.6"/><rect x="387.2" y="519.8" width="157.45" height="156.6"/><rect x="544.65" y="519.8" width="157.45" height="156.6"/>
<rect x="72.3" y="676.4" width="787.25" height="156.6"/><rect x="229.75" y="676.4" width="157.45" height="156.6"/><rect x="387.2" y="676.4" width="157.45" height="156.6"/><rect x="544.65" y="676.4" width="157.45" height="156.6"/><rect x="702.1" y="676.4" width="157.45" height="156.6"/>
<rect x="72.3" y="833" width="944.7" height="156.6"/><rect x="229.75" y="833" width="157.45" height="156.6"/><rect x="387.2" y="833" width="157.45" height="156.6"/><rect x="544.65" y="833" width="157.45" height="156.6"/><rect x="702.1" y="833" width="157.45" height="156.6"/>
<rect x="72.3" y="989.6" width="1102.15" height="156.6"/><rect x="229.75" y="989.6" width="157.45" height="156.6"/><rect x="387.2" y="989.6" width="157.45" height="156.6"/><rect x="544.65" y="989.6" width="157.45" height="156.6"/><rect x="702.1" y="989.6" width="157.45" height="156.6"/><rect x="859.55" y="989.6" width="157.45" height="156.6"/>
<rect x="72.3" y="1146.2" width="1259.6" height="156.6"/><rect x="229.75" y="1146.2" width="157.45" height="156.6"/><rect x="387.2" y="1146.2" width="157.45" height="156.6"/><rect x="544.65" y="1146.2" width="157.45" height="156.6"/><rect x="702.1" y="1146.2" width="157.45" height="156.6"/><rect x="859.55" y="1146.2" width="157.45" height="156.6"/><rect x="1017" y="1146.2" width="157.45" height="156.6"/>
<rect x="72.3" y="1302.8" width="1417.05" height="156.6"/><rect x="229.75" y="1302.8" width="157.45" height="156.6"/><rect x="387.2" y="1302.8" width="157.45" height="156.6"/><rect x="544.65" y="1302.8" width="157.45" height="156.6"/><rect x="702.1" y="1302.8" width="157.45" height="156.6"/><rect x="859.55" y="1302.8" width="157.45" height="156.6"/><rect x="1017" y="1302.8" width="157.45" height="156.6"/><rect x="1174.45" y="1302.8" width="157.45" height="156.6"/>
<rect x="72.3" y="1459.4" width="1574.5" height="156.6"/><rect x="229.75" y="1459.4" width="157.45" height="156.6"/><rect x="387.2" y="1459.4" width="157.45" height="156.6"/><rect x="544.65" y="1459.4" width="157.45" height="156.6"/><rect x="702.1" y="1459.4" width="157.45" height="156.6"/><rect x="859.55" y="1459.4" width="157.45" height="156.6"/><rect x="1017" y="1459.4" width="157.45" height="156.6"/><rect x="1174.45" y="1459.4" width="157.45" height="156.6"/><rect x="1331.9" y="1459.4" width="157.45" height="156.6"/>
<rect x="72.3" y="1616" width="1731.95" height="156.6"/><rect x="229.75" y="1616" width="157.45" height="156.6"/><rect x="387.2" y="1616" width="157.45" height="156.6"/><rect x="544.65" y="1616" width="157.45" height="156.6"/><rect x="702.1" y="1616" width="157.45" height="156.6"/><rect x="859.55" y="1616" width="157.45" height="156.6"/><rect x="1017" y="1616" width="157.45" height="156.6"/><rect x="1174.45" y="1616" width="157.45" height="156.6"/><rect x="1331.9" y="1616" width="157.45" height="156.6"/><rect x="1489.35" y="1616" width="157.45" height="156.6"/>
</g>

<!-- ===== titles ===== -->
<text class="t1" x="151" y="25" text-anchor="middle"><tspan font-style="italic">R</tspan><tspan font-size="15" dy="4">eq</tspan><tspan dy="-4"> [km]</tspan></text>
<text class="t2" x="80.5" y="42">CI<tspan font-size="14" dy="3">68%</tspan><tspan dy="-3"> = 15.12</tspan><tspan font-size="15" dy="-9">+0.64</tspan><tspan font-size="15" dx="-34.7" dy="13">−1.31</tspan></text>

<text class="t1" x="308.45" y="181.6" text-anchor="middle"><tspan font-style="italic">M</tspan> [M<tspan font-size="15" dy="4">⊙</tspan><tspan dy="-4">]</tspan></text>
<text class="t2" x="243.2" y="198.6">CI<tspan font-size="14" dy="3">68%</tspan><tspan dy="-3"> = 1.88</tspan><tspan font-size="15" dy="-9">+0.13</tspan><tspan font-size="15" dx="-34.7" dy="13">−0.19</tspan></text>

<text class="t1" x="465.9" y="338.2" text-anchor="middle">cos(<tspan font-style="italic">i</tspan>)</text>
<text class="t2" x="391.7" y="355.2">CI<tspan font-size="14" dy="3">68%</tspan><tspan dy="-3"> = 0.424</tspan><tspan font-size="15" dy="-9">+0.081</tspan><tspan font-size="15" dx="-42.2" dy="13">−0.108</tspan></text>

<text class="t1" x="623.35" y="494.8" text-anchor="middle">Θ<tspan font-size="15" dy="4" font-style="italic">p</tspan><tspan dy="-4"> [rad]</tspan></text>
<text class="t2" x="558.1" y="511.8">CI<tspan font-size="14" dy="3">68%</tspan><tspan dy="-3"> = 1.60</tspan><tspan font-size="15" dy="-9">+0.22</tspan><tspan font-size="15" dx="-34.7" dy="13">−0.28</tspan></text>

<text class="t1" x="780.8" y="651.4" text-anchor="middle"><tspan font-style="italic">ϕ</tspan><tspan font-size="15" dy="4" font-style="italic">p</tspan><tspan dy="-4"> [cycles]</tspan></text>
<text class="t2" x="697.6" y="668.4">CI<tspan font-size="14" dy="3">68%</tspan><tspan dy="-3"> = 0.4305</tspan><tspan font-size="15" dy="-9">+0.0058</tspan><tspan font-size="15" dx="-49.7" dy="13">−0.0046</tspan></text>

<text class="t1" x="938.25" y="808" text-anchor="middle"><tspan font-style="italic">ζ</tspan><tspan font-size="15" dy="4" font-style="italic">p</tspan><tspan dy="-4"> [rad]</tspan></text>
<text class="t2" x="855" y="825">CI<tspan font-size="14" dy="3">68%</tspan><tspan dy="-3"> = 0.0615</tspan><tspan font-size="15" dy="-9">+0.0089</tspan><tspan font-size="15" dx="-49.7" dy="13">−0.0054</tspan></text>

<text class="t1" x="1095.7" y="964.6" text-anchor="middle">log10(<tspan font-style="italic">T</tspan><tspan font-size="15" dy="4" font-style="italic">p</tspan><tspan dy="-4"> [K])</tspan></text>
<text class="t2" x="1021.5" y="981.6">CI<tspan font-size="14" dy="3">68%</tspan><tspan dy="-3"> = 6.062</tspan><tspan font-size="15" dy="-9">+0.017</tspan><tspan font-size="15" dx="-42.2" dy="13">−0.015</tspan></text>

<text class="t1" x="1253.15" y="1121.2" text-anchor="middle">Θ<tspan font-size="15" dy="4" font-style="italic">s</tspan><tspan dy="-4"> [rad]</tspan></text>
<text class="t2" x="1178.9" y="1138.2">CI<tspan font-size="14" dy="3">68%</tspan><tspan dy="-3"> = 2.242</tspan><tspan font-size="15" dy="-9">+0.084</tspan><tspan font-size="15" dx="-42.2" dy="13">−0.124</tspan></text>

<text class="t1" x="1410.6" y="1277.8" text-anchor="middle"><tspan font-style="italic">ϕ</tspan><tspan font-size="15" dy="4" font-style="italic">s</tspan><tspan dy="-4"> [cycles]</tspan></text>
<text class="t2" x="1327.4" y="1294.8">CI<tspan font-size="14" dy="3">68%</tspan><tspan dy="-3"> = 0.4750</tspan><tspan font-size="15" dy="-9">+0.0031</tspan><tspan font-size="15" dx="-49.7" dy="13">−0.0032</tspan></text>

<text class="t1" x="1568.05" y="1434.4" text-anchor="middle"><tspan font-style="italic">ζ</tspan><tspan font-size="15" dy="4" font-style="italic">s</tspan><tspan dy="-4"> [rad]</tspan></text>
<text class="t2" x="1484.9" y="1451.4">CI<tspan font-size="14" dy="3">68%</tspan><tspan dy="-3"> = 0.0817</tspan><tspan font-size="15" dy="-9">+0.0078</tspan><tspan font-size="15" dx="-49.7" dy="13">−0.0064</tspan></text>

<text class="t1" x="1725.5" y="1591" text-anchor="middle">log10(<tspan font-style="italic">T</tspan><tspan font-size="15" dy="4" font-style="italic">s</tspan><tspan dy="-4"> [K])</tspan></text>
<text class="t2" x="1651.3" y="1608">CI<tspan font-size="14" dy="3">68%</tspan><tspan dy="-3"> = 6.104</tspan><tspan font-size="15" dy="-9">+0.011</tspan><tspan font-size="15" dx="-42.2" dy="13">−0.015</tspan></text>

<!-- ===== y tick labels ===== -->
<g class="tl" text-anchor="end">
<text x="70" y="266.5">2.0</text><text x="70" y="319.5">1.5</text>
<text x="70" y="387.5">0.9</text><text x="70" y="450.8">0.5</text><text x="70" y="514.2">0.1</text>
<text x="70" y="584.2">2.0</text><text x="70" y="627.5">1.5</text>
<text x="70" y="704.2">0.65</text><text x="70" y="754.2">0.40</text><text x="70" y="804.2">0.15</text>
<text x="70" y="900.8">1.0</text><text x="70" y="950.8">0.5</text>
<text x="70" y="1047.5">6.10</text><text x="70" y="1109.2">6.05</text>
<text x="70" y="1175.8">2.5</text><text x="70" y="1227.5">2.0</text><text x="70" y="1280.8">1.5</text>
<text x="70" y="1350.8">0.55</text><text x="70" y="1399.2">0.30</text><text x="70" y="1444.2">0.05</text>
<text x="70" y="1527.5">1.0</text><text x="70" y="1577.5">0.5</text>
<text x="70" y="1690.8">6.10</text><text x="70" y="1745.8">6.05</text>
</g>

<!-- ===== x tick labels (rotated) ===== -->
<g class="tl" text-anchor="end">
<text transform="translate(102.8,1779) rotate(-90)">10</text>
<text transform="translate(147.8,1779) rotate(-90)">12</text>
<text transform="translate(192.8,1779) rotate(-90)">14</text>
<text transform="translate(293.5,1779) rotate(-90)">1.5</text>
<text transform="translate(340.5,1779) rotate(-90)">2.0</text>
<text transform="translate(409.3,1779) rotate(-90)">0.1</text>
<text transform="translate(471.3,1779) rotate(-90)">0.5</text>
<text transform="translate(534.5,1779) rotate(-90)">0.9</text>
<text transform="translate(612.1,1779) rotate(-90)">1.5</text>
<text transform="translate(655.1,1779) rotate(-90)">2.0</text>
<text transform="translate(748,1779) rotate(-90)">0.15</text>
<text transform="translate(799.7,1779) rotate(-90)">0.40</text>
<text transform="translate(846.8,1779) rotate(-90)">0.65</text>
<text transform="translate(915,1779) rotate(-90)">0.5</text>
<text transform="translate(967.2,1779) rotate(-90)">1.0</text>
<text transform="translate(1071.5,1779) rotate(-90)">6.05</text>
<text transform="translate(1127.2,1779) rotate(-90)">6.10</text>
<text transform="translate(1213.5,1779) rotate(-90)">1.5</text>
<text transform="translate(1266.5,1779) rotate(-90)">2.0</text>
<text transform="translate(1319.5,1779) rotate(-90)">2.5</text>
<text transform="translate(1366.4,1779) rotate(-90)">0.05</text>
<text transform="translate(1412.9,1779) rotate(-90)">0.30</text>
<text transform="translate(1459.4,1779) rotate(-90)">0.55</text>
<text transform="translate(1542.5,1779) rotate(-90)">0.5</text>
<text transform="translate(1594.2,1779) rotate(-90)">1.0</text>
<text transform="translate(1692.5,1779) rotate(-90)">6.05</text>
<text transform="translate(1745.8,1779) rotate(-90)">6.10</text>
</g>

<!-- ===== x axis labels ===== -->
<g class="al" text-anchor="middle">
<text x="151" y="1822"><tspan font-style="italic">R</tspan><tspan font-size="15" dy="4">eq</tspan><tspan dy="-4"> [km]</tspan></text>
<text x="308.45" y="1822"><tspan font-style="italic">M</tspan> [M<tspan font-size="15" dy="4">⊙</tspan><tspan dy="-4">]</tspan></text>
<text x="465.9" y="1822">cos(<tspan font-style="italic">i</tspan>)</text>
<text x="623.35" y="1822">Θ<tspan font-size="15" dy="4" font-style="italic">p</tspan><tspan dy="-4"> [rad]</tspan></text>
<text x="780.8" y="1838"><tspan font-style="italic">ϕ</tspan><tspan font-size="15" dy="4" font-style="italic">p</tspan><tspan dy="-4"> [cycles]</tspan></text>
<text x="938.25" y="1822"><tspan font-style="italic">ζ</tspan><tspan font-size="15" dy="4" font-style="italic">p</tspan><tspan dy="-4"> [rad]</tspan></text>
<text x="1095.7" y="1838">log10(<tspan font-style="italic">T</tspan><tspan font-size="15" dy="4" font-style="italic">p</tspan><tspan dy="-4"> [K])</tspan></text>
<text x="1253.15" y="1822">Θ<tspan font-size="15" dy="4" font-style="italic">s</tspan><tspan dy="-4"> [rad]</tspan></text>
<text x="1410.6" y="1838"><tspan font-style="italic">ϕ</tspan><tspan font-size="15" dy="4" font-style="italic">s</tspan><tspan dy="-4"> [cycles]</tspan></text>
<text x="1568.05" y="1822"><tspan font-style="italic">ζ</tspan><tspan font-size="15" dy="4" font-style="italic">s</tspan><tspan dy="-4"> [rad]</tspan></text>
<text x="1725.5" y="1838">log10(<tspan font-style="italic">T</tspan><tspan font-size="15" dy="4" font-style="italic">s</tspan><tspan dy="-4"> [K])</tspan></text>
</g>

<!-- ===== y axis labels (rotated) ===== -->
<g class="al" text-anchor="middle">
<text transform="translate(37,284.9) rotate(-90)"><tspan font-style="italic">M</tspan> [M<tspan font-size="15" dy="4">⊙</tspan><tspan dy="-4">]</tspan></text>
<text transform="translate(37,441.5) rotate(-90)">cos(<tspan font-style="italic">i</tspan>)</text>
<text transform="translate(37,598.1) rotate(-90)">Θ<tspan font-size="15" dy="4" font-style="italic">p</tspan><tspan dy="-4"> [rad]</tspan></text>
<text transform="translate(26,754.7) rotate(-90)"><tspan font-style="italic">ϕ</tspan><tspan font-size="15" dy="4" font-style="italic">p</tspan><tspan dy="-4"> [cycles]</tspan></text>
<text transform="translate(37,911.3) rotate(-90)"><tspan font-style="italic">ζ</tspan><tspan font-size="15" dy="4" font-style="italic">p</tspan><tspan dy="-4"> [rad]</tspan></text>
<text transform="translate(26,1067.9) rotate(-90)">log10(<tspan font-style="italic">T</tspan><tspan font-size="15" dy="4" font-style="italic">p</tspan><tspan dy="-4"> [K])</tspan></text>
<text transform="translate(37,1224.5) rotate(-90)">Θ<tspan font-size="15" dy="4" font-style="italic">s</tspan><tspan dy="-4"> [rad]</tspan></text>
<text transform="translate(26,1381.1) rotate(-90)"><tspan font-style="italic">ϕ</tspan><tspan font-size="15" dy="4" font-style="italic">s</tspan><tspan dy="-4"> [cycles]</tspan></text>
<text transform="translate(37,1537.7) rotate(-90)"><tspan font-style="italic">ζ</tspan><tspan font-size="15" dy="4" font-style="italic">s</tspan><tspan dy="-4"> [rad]</tspan></text>
<text transform="translate(26,1694.3) rotate(-90)">log10(<tspan font-style="italic">T</tspan><tspan font-size="15" dy="4" font-style="italic">s</tspan><tspan dy="-4"> [K])</tspan></text>
</g>
</svg>
</body></html>
